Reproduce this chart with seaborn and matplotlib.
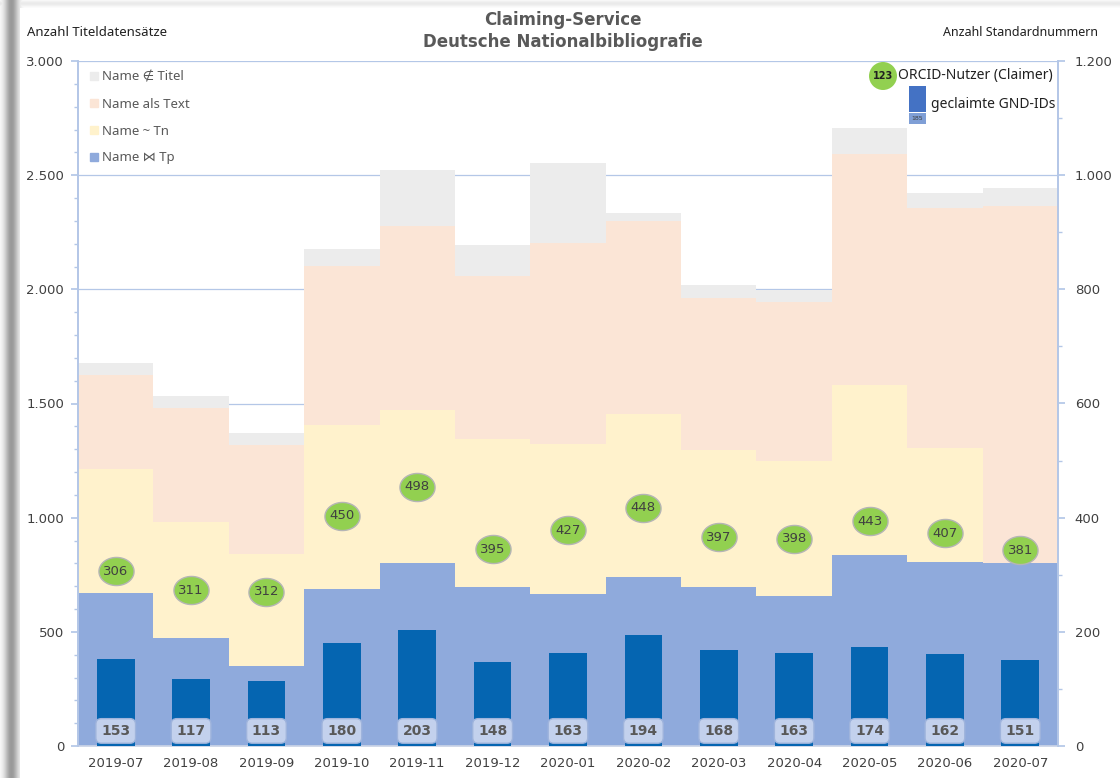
import numpy as np
import matplotlib.pyplot as plt
from matplotlib.patches import Patch, Ellipse, Rectangle
from matplotlib.ticker import MultipleLocator, FuncFormatter
import seaborn as sns

# values
months = ["2019-07", "2019-08", "2019-09", "2019-10", "2019-11", "2019-12", "2020-01",
          "2020-02", "2020-03", "2020-04", "2020-05", "2020-06", "2020-07"]
name_tp = [670, 473, 350, 688, 801, 696, 666, 740, 696, 657, 836, 806, 801]
name_tn = [543, 508, 491, 718, 671, 649, 657, 714, 600, 591, 745, 499, 0]
name_text = [412, 499, 477, 696, 805, 713, 880, 845, 666, 697, 1012, 1051, 1564]
name_not_title = [52, 53, 53, 75, 246, 136, 350, 35, 57, 52, 114, 66, 79]
gnd_ids = [153, 117, 113, 180, 203, 148, 163, 194, 168, 163, 174, 162, 151]
orcid_users = [306, 311, 312, 450, 498, 395, 427, 448, 397, 398, 443, 407, 381]
orcid_pos = [306, 273, 270, 403, 454, 345, 378, 417, 366, 363, 394, 373, 343]

C_TP, C_TN, C_TEXT, C_NOT = "#8faadc", "#fff2cc", "#fbe5d6", "#ececec"
C_GND, C_ORCID = "#0565b1", "#92d050"
AXC = "#b4c7e7"
TXT = "#404040"

sns.set_theme(style="white")
plt.rcParams["font.family"] = ["DejaVu Sans"]

W, H = 1120, 778
fig = plt.figure(figsize=(W / 100, H / 100), dpi=100)

# drop shadow of the chart panel
bg = fig.add_axes([0, 0, 1, 1], zorder=-10)
img = np.ones((H, W))
xx = np.arange(W)
yy = np.arange(H)
left = 1 - 0.40 * np.exp(-((xx - 11) / 7.0) ** 2)
top = 1 - 0.08 * np.exp(-((yy - 3) / 3.0) ** 2)
img = np.minimum(img, left[None, :])
img = np.minimum(img, top[:, None])
img[8:, 20:] = 1.0
bg.imshow(np.dstack([img] * 3), aspect="auto", extent=[0, 1, 0, 1])
bg.axis("off")

ax = fig.add_axes([78 / W, 32 / H, 980 / W, 685 / H])

c1 = np.array(name_tp)
c2 = c1 + np.array(name_tn)
c3 = c2 + np.array(name_text)
c4 = c3 + np.array(name_not_title)
for tops, col in [(c4, C_NOT), (c3, C_TEXT), (c2, C_TN), (c1, C_TP)]:
    sns.barplot(x=months, y=tops, ax=ax, color=col, width=1.0, saturation=1,
                linewidth=0, zorder=2)

ax.set_xlim(-0.5, 12.5)
ax.set_ylim(0, 3000)
ax.set_xlabel("")
ax.set_ylabel("")
ax.yaxis.set_major_locator(MultipleLocator(500))
ax.yaxis.set_minor_locator(MultipleLocator(100))
ax.yaxis.set_major_formatter(FuncFormatter(lambda v, p: f"{int(v):,}".replace(",", ".")))
ax.set_axisbelow(True)
ax.yaxis.grid(True, color=AXC, linewidth=0.9)
ax.tick_params(axis="y", which="both", direction="out", color=AXC, left=True)
ax.tick_params(axis="y", which="major", length=5, pad=5, labelsize=9.5, labelcolor=TXT)
ax.tick_params(axis="y", which="minor", length=3)
ax.tick_params(axis="x", length=0, pad=8, labelsize=9.5, labelcolor=TXT)
for s in ["left", "right"]:
    ax.spines[s].set_color(AXC)
ax.spines["bottom"].set_color("#c9d3e6")
ax.spines["top"].set_visible(False)

ax.legend(handles=[Patch(color=C_NOT, label="Name \u2209 Titel"),
                   Patch(color=C_TEXT, label="Name als Text"),
                   Patch(color=C_TN, label="Name ~ Tn"),
                   Patch(color=C_TP, label="Name \u22c8 Tp")],
          loc="upper left", bbox_to_anchor=(0.0, 1.003), frameon=False,
          handlelength=0.6, handleheight=0.6, handletextpad=0.35, labelspacing=1.05,
          prop={"family": ["Noto Sans", "DejaVu Sans"], "size": 9.5}, labelcolor="#595959")

# right axis: claimed GND IDs and ORCID users
ax2 = ax.twinx()
sns.barplot(x=months, y=gnd_ids, ax=ax2, color=C_GND, width=0.5, saturation=1,
            linewidth=0, zorder=3)
t = np.linspace(0, 2 * np.pi, 60)
ellipse = list(zip(np.cos(t), 0.8 * np.sin(t)))
sns.scatterplot(x=months, y=orcid_pos, ax=ax2, marker=ellipse, s=640, color=C_ORCID,
                edgecolor="#b5b5b5", linewidth=1, zorder=5)
for i, (p, v) in enumerate(zip(orcid_pos, orcid_users)):
    ax2.text(i, p, str(v), ha="center", va="center", fontsize=9.5, color=TXT, zorder=6)
for i, v in enumerate(gnd_ids):
    ax2.text(i, 0.022, str(v), transform=ax2.get_xaxis_transform(), ha="center",
             va="center", fontsize=10, fontweight="bold", color="#595959", zorder=6,
             bbox=dict(boxstyle="round,pad=0.38,rounding_size=0.4", fc="#c3d1ed",
                       ec="#9fb4dc", lw=1))

ax2.set_xlim(-0.5, 12.5)
ax2.set_ylim(0, 1200)
ax2.set_ylabel("")
ax2.yaxis.set_major_locator(MultipleLocator(200))
ax2.yaxis.set_minor_locator(MultipleLocator(100))
ax2.yaxis.set_major_formatter(FuncFormatter(lambda v, p: f"{int(v):,}".replace(",", ".")))
ax2.tick_params(axis="y", which="both", direction="out", color=AXC, right=True)
ax2.tick_params(axis="y", which="major", length=5, pad=7, labelsize=9.5, labelcolor=TXT)
ax2.tick_params(axis="y", which="minor", length=3)
for s in ["left", "right"]:
    ax2.spines[s].set_color(AXC)
ax2.spines["bottom"].set_visible(False)
ax2.spines["top"].set_visible(False)

# right-hand legend
def fx(px):
    return px / W


def fy(py):
    return 1 - py / H


lf = ["Noto Sans", "DejaVu Sans"]
fig.add_artist(Ellipse((fx(883), fy(76)), 28 / W, 28 / H, fc=C_ORCID, ec="none"))
fig.text(fx(883), fy(76), "123", ha="center", va="center", fontsize=7, color="#202020",
         fontweight="bold")
fig.text(fx(898), fy(76), "ORCID-Nutzer (Claimer)", ha="left", va="center", fontsize=10,
         color="#202020", family=lf)
fig.add_artist(Rectangle((fx(909), fy(112)), 17 / W, 26 / H, fc="#4472c4", ec="none"))
fig.add_artist(Rectangle((fx(909), fy(124)), 17 / W, 11 / H, fc="#7f9fd6", ec="none"))
fig.text(fx(917.5), fy(118.5), "185", ha="center", va="center", fontsize=4.5, color="#404040")
fig.text(fx(931), fy(104), "geclaimte GND-IDs", ha="left", va="center", fontsize=10,
         color="#202020", family=lf)

# titles
fig.text(fx(563), fy(20), "Claiming-Service", ha="center", va="center", fontsize=12,
         fontweight="bold", color="#595959")
fig.text(fx(563), fy(42), "Deutsche Nationalbibliografie", ha="center", va="center",
         fontsize=12, fontweight="bold", color="#595959")
fig.text(fx(27), fy(32), "Anzahl Titeldatensätze", ha="left", va="center", fontsize=9.5,
         color="#202020", family=lf)
fig.text(fx(1098), fy(32), "Anzahl Standardnummern", ha="right", va="center", fontsize=9,
         color="#202020", family=lf)

fig.savefig("out.png", dpi=100)
